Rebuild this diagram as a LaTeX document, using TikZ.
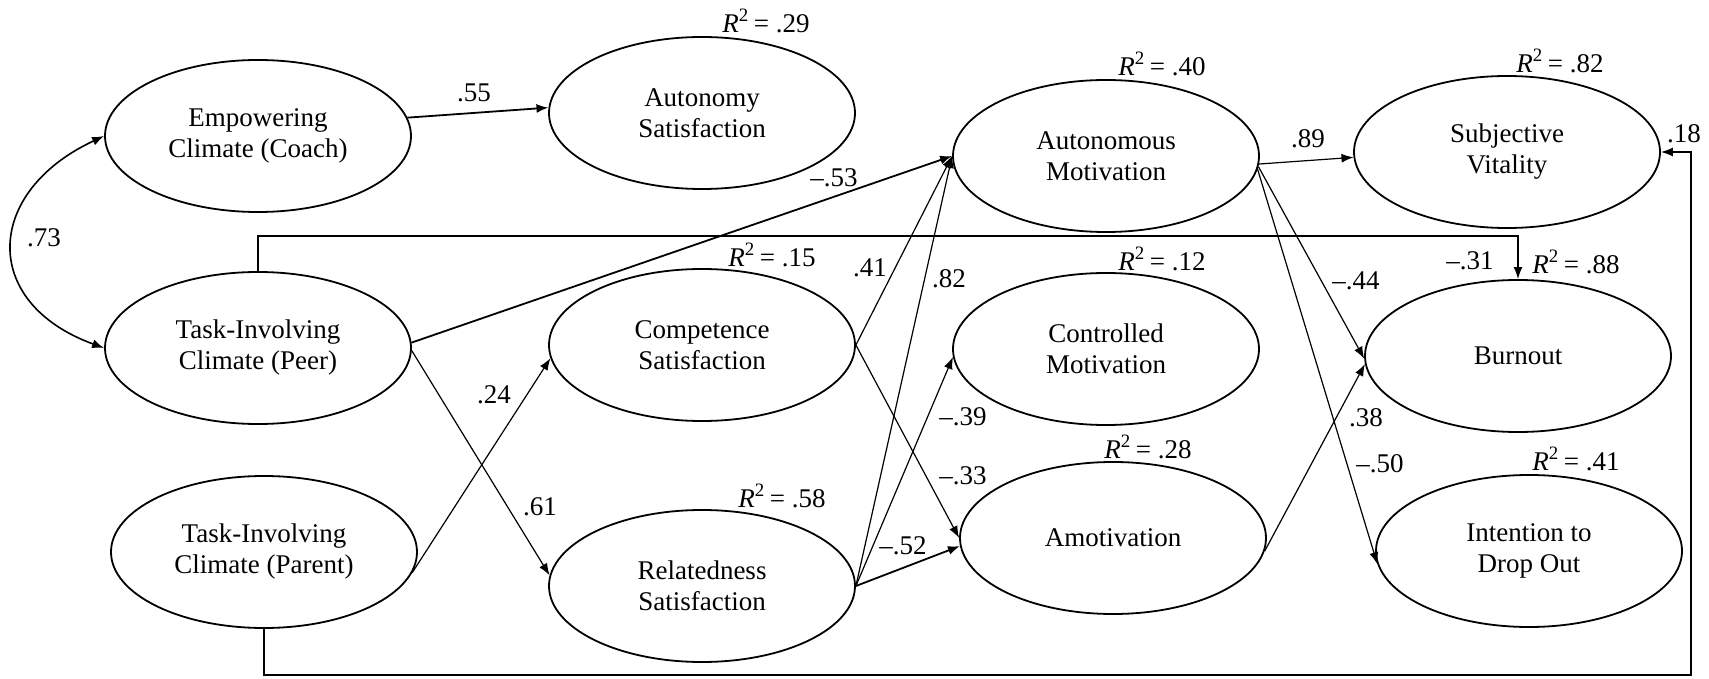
\documentclass[tikz,border=0pt]{standalone}
\usepackage{fontspec}
\setmainfont{LiberationSerif}[Extension=.ttf, UprightFont=*-Regular, ItalicFont=*-Italic, BoldFont=*-Bold, BoldItalicFont=*-BoldItalic]
\usepackage{tikz}
\usetikzlibrary{arrows.meta, shapes.geometric}

\tikzset{
    latent/.style={ellipse, draw, line width=0.9pt, minimum width=153pt, minimum height=76pt,
        inner sep=0pt, align=center, font=\fontsize{13.5}{15.5}\selectfont},
    link/.style={-{Latex[length=6pt,width=4.5pt]}, line width=0.6pt},
    heavy/.style={line width=0.9pt},
    coef/.style={inner sep=1pt, font=\fontsize{13.5}{15.5}\selectfont},
}
\newcommand{\rsq}[1]{\textit{R}\textsuperscript{2}\,= #1}

\begin{document}
\begin{tikzpicture}[x=0.5pt, y=-0.5pt]
    % Canvas
    \useasboundingbox (0,0) rectangle (1709,679);

    % Climates
    \node[latent] (coach)  at (258,136) {Empowering\\Climate (Coach)};
    \node[latent] (peer)   at (258,348) {Task-Involving\\Climate (Peer)};
    \node[latent] (parent) at (264,552) {Task-Involving\\Climate (Parent)};

    % Need satisfaction
    \node[latent] (autsat)  at (702,113) {Autonomy\\Satisfaction};
    \node[latent] (compsat) at (702,345) {Competence\\Satisfaction};
    \node[latent] (relsat)  at (702,586) {Relatedness\\Satisfaction};

    % Motivation
    \node[latent] (automot) at (1106,156) {Autonomous\\Motivation};
    \node[latent] (ctrlmot) at (1106,349) {Controlled\\Motivation};
    \node[latent] (amot)    at (1113,538) {Amotivation};

    % Outcomes
    \node[latent] (vital)   at (1507,152) {Subjective\\Vitality};
    \node[latent] (burnout) at (1518,356) {Burnout};
    \node[latent] (dropout) at (1529,551) {Intention to\\Drop Out};

    % Explained variance
    \node[coef] (r2autsat)  at (766,21)   {\rsq{.29}};
    \node[coef] (r2compsat) at (772,255)  {\rsq{.15}};
    \node[coef] (r2relsat)  at (782,496)  {\rsq{.58}};
    \node[coef] (r2automot) at (1162,64)  {\rsq{.40}};
    \node[coef] (r2ctrlmot) at (1162,259) {\rsq{.12}};
    \node[coef] (r2amot)    at (1148,447) {\rsq{.28}};
    \node[coef] (r2vital)   at (1560,61)  {\rsq{.82}};
    \node[coef] (r2burnout) at (1576,262) {\rsq{.88}};
    \node[coef] (r2dropout) at (1576,459) {\rsq{.41}};

    % Correlation between climates
    \draw[{Latex[length=6pt,width=4.5pt]}-{Latex[length=6pt,width=4.5pt]}, line width=0.8pt]
        (coach.west) to[out=205, in=160, looseness=1.6] (peer.west);

    % Long routed paths
    \coordinate (topline) at (0,236);
    \coordinate (botline) at (1691,675);
    \draw[link, line width=0.7pt] (peer.north) |- (burnout.north |- topline) -- (burnout.north);
    \draw[link, line width=0.7pt] (parent.south) |- (botline) |- (vital.east);

    % Climates -> needs / motivation
    \draw[link, heavy] (coach.7) -- (autsat.178);
    \draw[link, heavy] (peer.2) -- (automot.west);
    \draw[link] (peer.-1) -- (relsat.176);
    \draw[link] (parent.-8) -- (compsat.185);

    % Needs -> motivation
    \draw[link] (compsat.east) -- (automot.west);
    \draw[link] (compsat.east) -- (amot.west);
    \draw[link] (relsat.east) -- (automot.west);
    \draw[link] (relsat.east) -- (ctrlmot.183);
    \draw[link, heavy] (relsat.east) -- (amot.183);

    % Motivation -> outcomes
    \draw[link] (automot.-3) -- (vital.182);
    \draw[link] (automot.-4) -- (burnout.181);
    \draw[link] (automot.-5) -- (dropout.185);
    \draw[link] (amot.-5) -- (burnout.183);

    % Path coefficients
    \node[coef] (c55) at (474,93)   {.55};
    \node[coef] (c73) at (44,238)   {.73};
    \node[coef] (c24) at (494,395)  {.24};
    \node[coef] (c61) at (540,507)  {.61};
    \node[coef] (c53) at (834,178)  {\textendash.53};
    \node[coef] (c41) at (870,268)  {.41};
    \node[coef] (c82) at (949,279)  {.82};
    \node[coef] (c39) at (963,417)  {\textendash.39};
    \node[coef] (c33) at (963,476)  {\textendash.33};
    \node[coef] (c52) at (903,546)  {\textendash.52};
    \node[coef] (c89) at (1308,139) {.89};
    \node[coef] (c18) at (1684,134) {.18};
    \node[coef] (c31) at (1470,261) {\textendash.31};
    \node[coef] (c44) at (1356,281) {\textendash.44};
    \node[coef] (c38) at (1366,418) {.38};
    \node[coef] (c50) at (1380,464) {\textendash.50};
\end{tikzpicture}
\end{document}
